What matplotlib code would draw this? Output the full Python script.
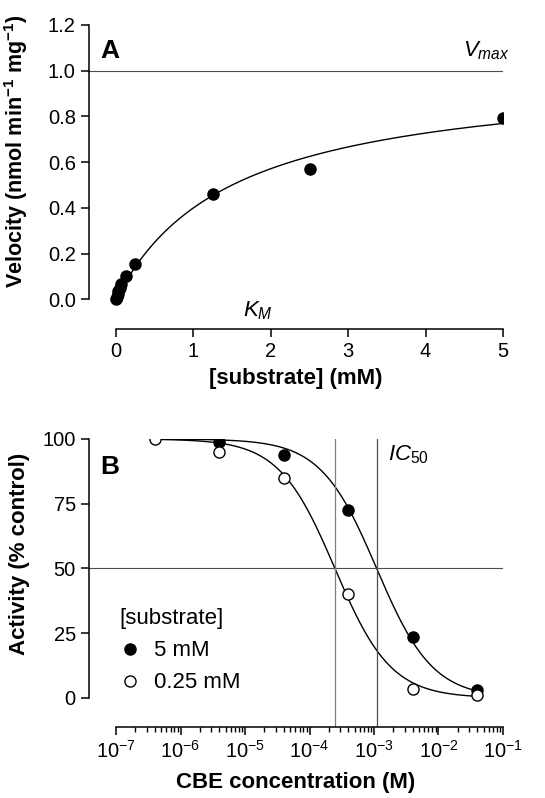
import numpy as np
import matplotlib.pyplot as plt
from matplotlib.ticker import FixedLocator, NullFormatter

plt.rcParams["font.family"] = ["Liberation Sans", "DejaVu Sans"]
plt.rcParams["mathtext.fontset"] = "custom"
plt.rcParams["mathtext.rm"] = "Liberation Sans"
plt.rcParams["mathtext.it"] = "Liberation Sans:italic"
plt.rcParams["mathtext.bf"] = "Liberation Sans:bold"

# panel A: Michaelis-Menten
substrate = [0, 0.01, 0.02, 0.03, 0.045, 0.0625, 0.125, 0.25, 1.25, 2.5, 5]
velocity = [0.0, 0.012, 0.025, 0.035, 0.05, 0.065, 0.10, 0.155, 0.46, 0.57, 0.795]
vmax, km = 1.0, 1.5

# panel B: CBE inhibition
cbe = [4e-7, 4e-6, 4e-5, 4e-4, 4e-3, 4e-2]
act_5mM = [np.nan, 99, 94, 72.5, 23.5, 3]
act_025mM = [100, 95, 85, 40, 3.5, 1]
ic50_5mM, ic50_025mM = 1.1e-3, 2.48e-4

fig = plt.figure(figsize=(5.45, 7.98), dpi=100)
axA = fig.add_axes([0.1633, 0.5877, 0.7596, 0.381])
axB = fig.add_axes([0.1633, 0.0890, 0.7596, 0.3609])


def style(ax):
    for s in ("top", "right"):
        ax.spines[s].set_visible(False)
    for s in ("left", "bottom"):
        ax.spines[s].set_linewidth(1.1)
    ax.tick_params(which="major", length=6, width=1.1, labelsize=14.5)
    ax.tick_params(which="minor", length=3.5, width=1.0)


# --- A ---
xs = np.linspace(0, 5, 300)
axA.plot(xs, vmax * xs / (km + xs), color="k", lw=1.0)
axA.plot(substrate, velocity, "o", color="k", ms=8)
axA.axhline(vmax, color="0.3", lw=0.8)
axA.set_xlim(-0.35, 5)
axA.set_ylim(-0.13, 1.2)
axA.spines["left"].set_bounds(0, 1.2)
axA.spines["bottom"].set_bounds(0, 5)
axA.set_yticks(np.arange(0, 1.21, 0.2))
axA.set_yticklabels([f"{v:.1f}" for v in np.arange(0, 1.21, 0.2)])
axA.set_xticks(range(6))
style(axA)
axA.set_xlabel("[substrate] (mM)", fontsize=16, fontweight="bold", labelpad=5)
axA.set_ylabel("Velocity (nmol min$^{\\mathbf{-1}}$ mg$^{\\mathbf{-1}}$)",
               fontsize=15.5, fontweight="bold")
axA.yaxis.set_label_coords(-0.143, 0.585)
axA.text(-0.2, 1.085, "A", fontsize=19, fontweight="bold", va="center")
axA.text(4.48, 1.04, "$V_{max}$", fontsize=16, va="bottom")
axA.text(1.64, -0.05, "$K_M$", fontsize=16, va="center")

# --- B ---
xc = np.logspace(np.log10(cbe[0]), np.log10(cbe[-1]), 400)
axB.plot(xc, 100 / (1 + xc / ic50_5mM), color="k", lw=1.0)
axB.plot(xc, 100 / (1 + xc / ic50_025mM), color="k", lw=1.0)
axB.plot(cbe, act_5mM, "o", color="k", ms=8, label="5 mM")
axB.plot(cbe, act_025mM, "o", mfc="white", mec="k", mew=1.0, ms=8, label="0.25 mM")
axB.axhline(50, color="0.3", lw=0.8)
axB.axvline(ic50_025mM, color="0.5", lw=0.9)
axB.axvline(ic50_5mM, color="0.3", lw=0.9)
axB.set_xscale("log")
axB.set_xlim(10 ** -7.419, 1e-1)
axB.set_ylim(-11.2, 100)
axB.spines["left"].set_bounds(0, 100)
axB.spines["bottom"].set_bounds(1e-7, 1e-1)
axB.set_yticks([0, 25, 50, 75, 100])
axB.set_xticks([10.0 ** k for k in range(-7, 0)])
minors = [m * 10.0 ** k for k in range(-7, -1) for m in range(2, 10)]
axB.xaxis.set_minor_locator(FixedLocator(minors))
axB.xaxis.set_minor_formatter(NullFormatter())
style(axB)
axB.set_xlabel("CBE concentration (M)", fontsize=16, fontweight="bold", labelpad=7)
axB.set_ylabel("Activity (% control)", fontsize=16, fontweight="bold")
axB.yaxis.set_label_coords(-0.143, 0.60)
axB.text(10 ** -7.25, 89, "B", fontsize=19, fontweight="bold", va="center")
axB.text(10 ** -2.78, 94, "$IC_{50}$", fontsize=16, va="center")
leg = axB.legend(loc="lower left", bbox_to_anchor=(0.04, 0.07), frameon=False,
                 title="[substrate]", fontsize=16, title_fontsize=16,
                 handletextpad=0.6, borderaxespad=0.2, handlelength=1.0,
                 labelspacing=0.5)
leg._legend_box.align = "left"

fig.savefig("out.png", dpi=100)
